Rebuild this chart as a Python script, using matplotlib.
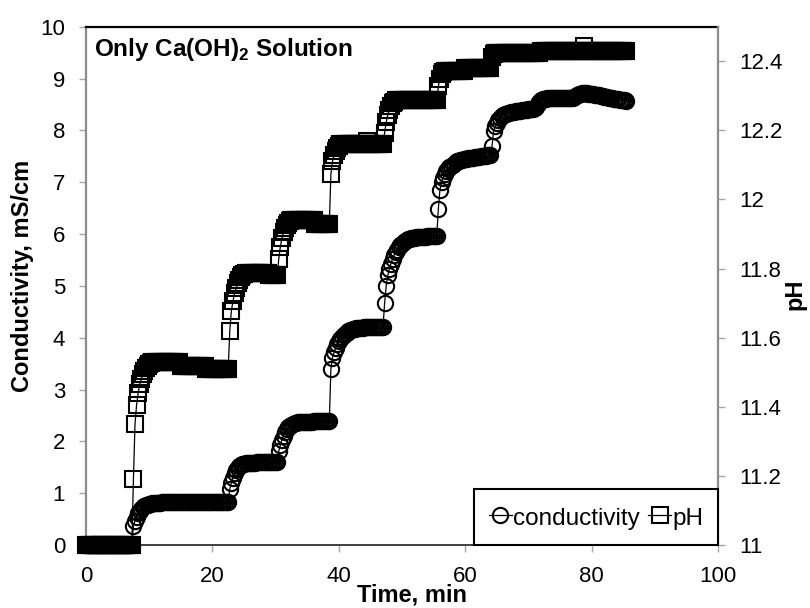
import numpy as np
import matplotlib
matplotlib.use('Agg')
import matplotlib.pyplot as plt

### DATA (one value every 0.25 min) ###

sample_min = 0.25

# conductivity, mS/cm (left axis), 8 readings per row = 2 minutes
conductivity = [
    0, 0, 0, 0, 0, 0, 0, 0,
    0, 0, 0, 0, 0, 0, 0, 0,
    0, 0, 0, 0, 0, 0, 0, 0,
    0, 0, 0, 0, 0, 0, 0.37, 0.47,
    0.55, 0.61, 0.66, 0.70, 0.73, 0.75, 0.77, 0.78,
    0.79, 0.80, 0.81, 0.81, 0.82, 0.82, 0.82, 0.82,
    0.83, 0.83, 0.83, 0.83, 0.83, 0.83, 0.83, 0.83,
    0.83, 0.83, 0.83, 0.83, 0.83, 0.83, 0.83, 0.83,
    0.83, 0.83, 0.83, 0.83, 0.83, 0.83, 0.83, 0.83,
    0.83, 0.83, 0.83, 0.83, 0.83, 0.83, 0.83, 0.83,
    0.83, 0.83, 0.83, 0.83, 0.83, 0.83, 0.83, 0.83,
    0.83, 0.83, 0.83, 1.08, 1.20, 1.30, 1.38, 1.44,
    1.49, 1.52, 1.54, 1.56, 1.57, 1.58, 1.58, 1.59,
    1.59, 1.59, 1.59, 1.59, 1.60, 1.60, 1.60, 1.60,
    1.60, 1.60, 1.60, 1.60, 1.60, 1.60, 1.60, 1.60,
    1.60, 1.60, 1.81, 1.93, 2.03, 2.11, 2.18, 2.23,
    2.27, 2.30, 2.32, 2.34, 2.35, 2.36, 2.37, 2.37,
    2.38, 2.38, 2.38, 2.38, 2.38, 2.38, 2.38, 2.38,
    2.39, 2.39, 2.39, 2.39, 2.40, 2.40, 2.40, 2.40,
    2.40, 2.40, 2.40, 3.40, 3.61, 3.72, 3.80, 3.87,
    3.93, 3.98, 4.02, 4.05, 4.08, 4.10, 4.12, 4.14,
    4.15, 4.16, 4.17, 4.18, 4.18, 4.19, 4.19, 4.19,
    4.20, 4.20, 4.20, 4.20, 4.20, 4.20, 4.20, 4.20,
    4.20, 4.21, 4.21, 4.21, 4.21, 4.67, 5.00, 5.20,
    5.33, 5.43, 5.52, 5.59, 5.65, 5.70, 5.74, 5.78,
    5.81, 5.84, 5.86, 5.88, 5.90, 5.91, 5.92, 5.93,
    5.93, 5.94, 5.94, 5.94, 5.95, 5.95, 5.95, 5.95,
    5.96, 5.96, 5.96, 5.97, 5.97, 5.97, 5.97, 6.49,
    6.85, 7.00, 7.09, 7.16, 7.21, 7.25, 7.29, 7.32,
    7.34, 7.36, 7.38, 7.40, 7.41, 7.42, 7.43, 7.44,
    7.45, 7.45, 7.46, 7.46, 7.47, 7.47, 7.48, 7.48,
    7.49, 7.49, 7.50, 7.50, 7.51, 7.51, 7.52, 7.52,
    7.52, 7.70, 7.99, 8.08, 8.15, 8.20, 8.24, 8.27,
    8.29, 8.31, 8.32, 8.33, 8.34, 8.35, 8.35, 8.36,
    8.37, 8.37, 8.38, 8.38, 8.39, 8.39, 8.40, 8.40,
    8.41, 8.41, 8.42, 8.42, 8.43, 8.46, 8.51, 8.55,
    8.58, 8.60, 8.61, 8.61, 8.62, 8.62, 8.62, 8.62,
    8.62, 8.62, 8.62, 8.62, 8.63, 8.63, 8.63, 8.63,
    8.63, 8.63, 8.63, 8.63, 8.63, 8.64, 8.66, 8.68,
    8.70, 8.71, 8.72, 8.72, 8.72, 8.72, 8.71, 8.71,
    8.70, 8.70, 8.69, 8.69, 8.68, 8.68, 8.67, 8.66,
    8.65, 8.65, 8.64, 8.63, 8.63, 8.62, 8.61, 8.61,
    8.60, 8.60, 8.59, 8.59, 8.58, 8.58, 8.57,
]

# pH (right axis), same sampling
ph = [
    11.00, 11.00, 11.00, 11.00, 11.00, 11.00, 11.00, 11.00,
    11.00, 11.00, 11.00, 11.00, 11.00, 11.00, 11.00, 11.00,
    11.00, 11.00, 11.00, 11.00, 11.00, 11.00, 11.00, 11.00,
    11.00, 11.00, 11.00, 11.00, 11.00, 11.00, 11.19, 11.35,
    11.405, 11.44, 11.465, 11.48, 11.495, 11.505, 11.513, 11.519,
    11.524, 11.527, 11.53, 11.53, 11.53, 11.53, 11.53, 11.53,
    11.53, 11.53, 11.53, 11.53, 11.53, 11.53, 11.53, 11.53,
    11.53, 11.53, 11.53, 11.53, 11.517, 11.517, 11.517, 11.517,
    11.517, 11.517, 11.517, 11.517, 11.517, 11.517, 11.517, 11.517,
    11.517, 11.517, 11.517, 11.517, 11.51, 11.51, 11.51, 11.51,
    11.51, 11.51, 11.51, 11.51, 11.51, 11.51, 11.51, 11.51,
    11.51, 11.51, 11.51, 11.62, 11.678, 11.705, 11.728, 11.744,
    11.758, 11.768, 11.776, 11.782, 11.785, 11.787, 11.788, 11.788,
    11.788, 11.788, 11.788, 11.788, 11.788, 11.788, 11.788, 11.788,
    11.788, 11.788, 11.788, 11.788, 11.78, 11.78, 11.78, 11.78,
    11.78, 11.78, 11.828, 11.863, 11.888, 11.905, 11.918, 11.927,
    11.933, 11.938, 11.942, 11.942, 11.942, 11.942, 11.942, 11.942,
    11.942, 11.942, 11.942, 11.942, 11.942, 11.942, 11.942, 11.942,
    11.942, 11.93, 11.93, 11.93, 11.93, 11.93, 11.93, 11.93,
    11.93, 11.93, 11.93, 12.074, 12.11, 12.128, 12.14, 12.149,
    12.155, 12.16, 12.16, 12.16, 12.16, 12.16, 12.16, 12.16,
    12.16, 12.16, 12.16, 12.16, 12.16, 12.16, 12.16, 12.16,
    12.16, 12.16, 12.17, 12.16, 12.16, 12.16, 12.16, 12.16,
    12.16, 12.16, 12.16, 12.16, 12.16, 12.193, 12.223, 12.245,
    12.26, 12.27, 12.278, 12.283, 12.287, 12.287, 12.287, 12.287,
    12.287, 12.287, 12.287, 12.287, 12.287, 12.287, 12.287, 12.287,
    12.287, 12.287, 12.287, 12.287, 12.287, 12.287, 12.287, 12.287,
    12.287, 12.287, 12.287, 12.287, 12.287, 12.287, 12.287, 12.328,
    12.35, 12.362, 12.368, 12.372, 12.372, 12.372, 12.372, 12.372,
    12.372, 12.372, 12.372, 12.372, 12.372, 12.372, 12.372, 12.372,
    12.38, 12.38, 12.38, 12.38, 12.38, 12.38, 12.38, 12.38,
    12.38, 12.38, 12.38, 12.38, 12.38, 12.38, 12.38, 12.38,
    12.38, 12.413, 12.422, 12.425, 12.425, 12.425, 12.425, 12.425,
    12.425, 12.425, 12.425, 12.425, 12.425, 12.425, 12.425, 12.425,
    12.425, 12.425, 12.425, 12.425, 12.425, 12.425, 12.425, 12.425,
    12.425, 12.425, 12.425, 12.425, 12.425, 12.425, 12.425, 12.425,
    12.431, 12.431, 12.431, 12.431, 12.431, 12.431, 12.431, 12.431,
    12.431, 12.431, 12.431, 12.431, 12.431, 12.431, 12.431, 12.431,
    12.431, 12.431, 12.431, 12.431, 12.431, 12.431, 12.431, 12.431,
    12.431, 12.431, 12.431, 12.445, 12.431, 12.431, 12.431, 12.431,
    12.431, 12.431, 12.431, 12.431, 12.431, 12.431, 12.431, 12.431,
    12.431, 12.431, 12.431, 12.431, 12.431, 12.431, 12.431, 12.431,
    12.431, 12.431, 12.431, 12.431, 12.431, 12.431, 12.431,
]

x_ticks = [0, 20, 40, 60, 80, 100]
cond_ticks = [0, 1, 2, 3, 4, 5, 6, 7, 8, 9, 10]
ph_ticks = [11, 11.2, 11.4, 11.6, 11.8, 12, 12.2, 12.4]
ph_tick_labels = ['11', '11.2', '11.4', '11.6', '11.8', '12', '12.2', '12.4']

time = np.arange(len(conductivity)) * sample_min


### STYLE ###

plt.rcParams['font.family'] = ['Liberation Sans', 'DejaVu Sans']
plt.rcParams['mathtext.fontset'] = 'custom'
plt.rcParams['mathtext.rm'] = 'Liberation Sans'
plt.rcParams['mathtext.bf'] = 'Liberation Sans:bold'

axis_grey = '#8c8c8c'
tick_kw = dict(direction='out', length=5, width=1, color='#a6a6a6',
               labelsize=16, pad=10)


### PLOT ###

fig = plt.figure(figsize=(8.1, 6.08), dpi=100)
ax = fig.add_axes([0.1062, 0.1036, 0.7802, 0.8525])
ax2 = ax.twinx()

marker_kw = dict(color='black', lw=0.9, ms=11, mew=1.5, mfc='none',
                 mec='black', clip_on=False)
l1, = ax.plot(time, conductivity, marker='o', label='conductivity', **marker_kw)
l2, = ax2.plot(time, ph, marker='s', label='pH', **marker_kw)

ax.set_xlim(0, 100)
ax.set_ylim(0, 10)
ax2.set_ylim(11, 12.5)
ax.set_xticks(x_ticks)
ax.set_yticks(cond_ticks)
ax2.set_yticks(ph_ticks)
ax2.set_yticklabels(ph_tick_labels)

ax.tick_params(axis='both', **tick_kw)
ax2.tick_params(axis='y', **tick_kw)

# spines: grey axes, black plot-area border on top
ax.spines['left'].set_color(axis_grey)
ax.spines['left'].set_linewidth(1.6)
ax.spines['bottom'].set_color('#404040')
ax.spines['bottom'].set_linewidth(1.4)
ax.spines['top'].set_color('black')
ax.spines['top'].set_linewidth(1.6)
ax.spines['right'].set_visible(False)
for s in ['left', 'bottom', 'top']:
    ax2.spines[s].set_visible(False)
ax2.spines['right'].set_color(axis_grey)
ax2.spines['right'].set_linewidth(1.6)

ax.set_xlabel('Time, min', fontsize=17, fontweight='bold')
ax.xaxis.set_label_coords(0.5166, -0.075)
ax.set_ylabel('Conductivity, mS/cm', fontsize=17, fontweight='bold')
ax.yaxis.set_label_coords(-0.083, 0.52)
ax2.set_ylabel('pH', fontsize=17, fontweight='bold')
ax2.yaxis.set_label_coords(1.104, 0.483)

ax.text(0.012, 0.944, r'Only Ca(OH)$_\mathbf{2}$ Solution', transform=ax.transAxes,
        fontsize=17.5, fontweight='bold', ha='left', va='baseline')

leg = ax2.legend(handles=[l1, l2], loc='lower right', bbox_to_anchor=(1, 0),
                 ncol=2, fontsize=17.5, frameon=True, fancybox=False,
                 framealpha=1, borderaxespad=0, borderpad=0.6,
                 handlelength=0.95, handleheight=1.3, handletextpad=0.05,
                 columnspacing=0.35)
leg.get_frame().set_edgecolor('black')
leg.get_frame().set_linewidth(1.5)

fig.savefig('out.png', dpi=100)
